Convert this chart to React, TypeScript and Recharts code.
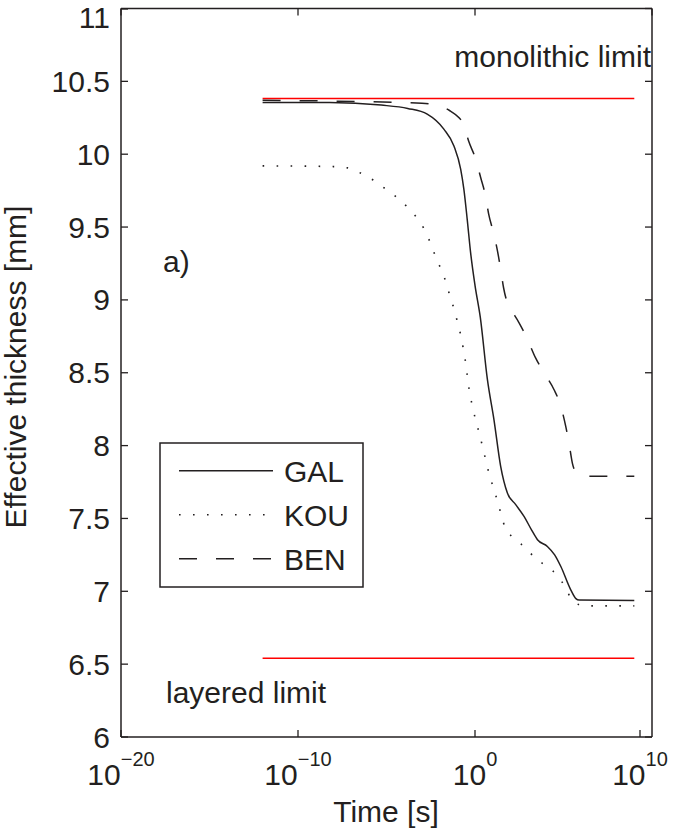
import React from 'react';
import { LineChart, Line, XAxis, YAxis, Customized } from 'recharts';

// log10 of time [s] and effective thickness [mm]
const GAL_LOGT = [-12, -8.2, -5.3, -3.8, -2.7, -1.76, -1.19, -0.81, -0.63, -0.44, -0.25, 0, 0.3, 0.7, 1.07, 1.45, 1.83, 2.3, 2.77, 3.2, 3.53, 4.09, 4.5, 4.85, 5.41, 5.7, 5.88, 9];
const GAL_THICK = [10.355, 10.355, 10.337, 10.314, 10.275, 10.172, 10.057, 9.897, 9.76, 9.553, 9.326, 9.1, 8.88, 8.454, 8.179, 7.858, 7.675, 7.595, 7.514, 7.42, 7.354, 7.308, 7.25, 7.17, 7.01, 6.95, 6.94, 6.937];

const KOU_LOGT = [-12, -8, -7.2, -6.44, -5.76, -5.1, -4.45, -3.87, -3.32, -2.89, -2.55, -2.27, -1.95, -1.66, -1.44, -1.19, -0.99, -0.8, -0.65, -0.52, -0.42, -0.31, -0.15, 0.03, 0.24, 0.43, 0.62, 0.81, 1.05, 1.28, 1.49, 1.73, 2.28, 2.88, 3.43, 4.09, 4.67, 5.13, 5.5, 6.2, 9];
const KOU_THICK = [9.92, 9.915, 9.906, 9.869, 9.823, 9.766, 9.707, 9.643, 9.569, 9.49, 9.4, 9.311, 9.219, 9.129, 9.036, 8.94, 8.847, 8.754, 8.658, 8.562, 8.465, 8.369, 8.273, 8.179, 8.085, 7.991, 7.895, 7.801, 7.707, 7.615, 7.521, 7.43, 7.359, 7.294, 7.225, 7.168, 7.106, 7.022, 6.937, 6.9, 6.9];

const BEN_LOGT = [-12, -6, -3, -2, -1.44, -0.9, -0.65, -0.36, 0.03, 0.32, 0.6, 0.77, 1.05, 1.28, 1.45, 1.62, 1.9, 2.2, 2.49, 2.96, 3.43, 3.9, 4.46, 4.85, 5.13, 5.32, 5.5, 5.75, 6.07, 9];
const BEN_THICK = [10.37, 10.36, 10.35, 10.33, 10.3, 10.25, 10.21, 10.09, 9.97, 9.84, 9.71, 9.59, 9.46, 9.33, 9.21, 9.08, 8.955, 8.9, 8.843, 8.73, 8.6, 8.5, 8.385, 8.27, 8.13, 8.01, 7.88, 7.81, 7.79, 7.79];

const LIMIT_LOGT = [-12, 9];
const MONOLITHIC = 10.383;
const LAYERED = 6.541;

const X_TICKS = [-20, -10, 0, 10];
const Y_TICKS = [6, 6.5, 7, 7.5, 8, 8.5, 9, 9.5, 10, 10.5, 11];

const INK = '#231f20';
const RED = '#ff0000';
const FONT = '"Liberation Sans", Arial, Helvetica, sans-serif';

const rows = (logT: number[], vals: number[]) => logT.map((e, i) => ({ t: Math.pow(10, e), v: vals[i] }));

const galData = rows(GAL_LOGT, GAL_THICK);
const kouData = rows(KOU_LOGT, KOU_THICK);
const benData = rows(BEN_LOGT, BEN_THICK);
const monoData = rows(LIMIT_LOGT, LIMIT_LOGT.map(() => MONOLITHIC));
const layerData = rows(LIMIT_LOGT, LIMIT_LOGT.map(() => LAYERED));

const SERIES = [
  { name: 'GAL', dash: undefined as string | undefined },
  { name: 'KOU', dash: '1.6 12.4' },
  { name: 'BEN', dash: '18 19' },
];

const XTick = (props: any) => {
  const { x, y, payload } = props;
  const exp = Math.round(Math.log10(payload.value));
  return (
    <g>
      <line x1={x} x2={x} y1={y} y2={y - 7} stroke={INK} strokeWidth={1.3} />
      <text x={x} y={y + 48} textAnchor="middle" fontSize={30} fill={INK} fontFamily={FONT}>
        <tspan>10</tspan>
        <tspan dy={-19} fontSize={20}>{exp < 0 ? `\u2212${-exp}` : `${exp}`}</tspan>
      </text>
    </g>
  );
};

const YTick = (props: any) => {
  const { x, y, payload } = props;
  // keep the top label ("11") inside the picture
  const ty = Math.max(y + 10.5, 27.5);
  return (
    <g>
      <line x1={x} x2={x + 7} y1={y} y2={y} stroke={INK} strokeWidth={1.3} />
      <text x={x - 11} y={ty} textAnchor="end" fontSize={30} fill={INK} fontFamily={FONT}>
        {String(payload.value)}
      </text>
    </g>
  );
};

const Annotations = () => (
  <g fontFamily={FONT} fill={INK} fontSize={30}>
    <text x={651} y={67} textAnchor="end">monolithic limit</text>
    <text x={163} y={272}>a)</text>
    <text x={166} y={703}>layered limit</text>
    <text x={386} y={822} textAnchor="middle">Time [s]</text>
    <text transform="translate(26,367) rotate(-90)" textAnchor="middle">Effective thickness [mm]</text>
    {/* legend box */}
    <g transform="translate(160,443)">
      <rect x={0} y={0} width={203} height={144} fill="#fff" stroke={INK} strokeWidth={1.5} />
      {SERIES.map((s, i) => (
        <g key={s.name} transform={`translate(0,${27.7 + i * 44})`}>
          <line x1={19} x2={113} y1={0} y2={0} stroke={INK} strokeWidth={1.5} strokeDasharray={s.dash} />
          <text x={124} y={11}>{s.name}</text>
        </g>
      ))}
    </g>
  </g>
);

export default function App() {
  return (
    <div style={{ position: 'absolute', left: 0, top: 0, width: 684, height: 832, background: '#fff' }}>
      <LineChart width={684} height={832} margin={{ top: 8.5, right: 32, bottom: 94, left: 120 }}>
        <XAxis
          dataKey="t"
          type="number"
          scale="log"
          domain={[1e-20, 1e10]}
          allowDataOverflow
          ticks={X_TICKS.map((e) => Math.pow(10, e))}
          height={1}
          tickSize={0}
          tickMargin={0}
          tickLine={false}
          tick={<XTick />}
          axisLine={{ stroke: INK, strokeWidth: 1.5 }}
        />
        <XAxis
          xAxisId="top"
          orientation="top"
          dataKey="t"
          type="number"
          scale="log"
          domain={[1e-20, 1e10]}
          allowDataOverflow
          ticks={X_TICKS.map((e) => Math.pow(10, e))}
          height={1}
          mirror
          tickSize={7}
          tick={() => <g />}
          tickLine={{ stroke: INK, strokeWidth: 1.3 }}
          axisLine={{ stroke: INK, strokeWidth: 1.5 }}
        />
        <YAxis
          type="number"
          domain={[6, 11]}
          allowDataOverflow
          ticks={Y_TICKS}
          width={1}
          tickSize={0}
          tickMargin={0}
          tickLine={false}
          tick={<YTick />}
          axisLine={{ stroke: INK, strokeWidth: 1.5 }}
        />
        <YAxis
          yAxisId="right"
          orientation="right"
          type="number"
          domain={[6, 11]}
          allowDataOverflow
          ticks={Y_TICKS}
          width={1}
          mirror
          tickSize={7}
          tick={() => <g />}
          tickLine={{ stroke: INK, strokeWidth: 1.3 }}
          axisLine={{ stroke: INK, strokeWidth: 1.5 }}
        />
        <Line data={monoData} dataKey="v" type="linear" stroke={RED} strokeWidth={1.5} dot={false} activeDot={false} isAnimationActive={false} />
        <Line data={layerData} dataKey="v" type="linear" stroke={RED} strokeWidth={1.5} dot={false} activeDot={false} isAnimationActive={false} />
        <Line data={galData} dataKey="v" name="GAL" type="monotone" stroke={INK} strokeWidth={1.5} dot={false} activeDot={false} isAnimationActive={false} />
        <Line data={kouData} dataKey="v" name="KOU" type="monotone" stroke={INK} strokeWidth={1.6} strokeDasharray="1.6 12.4" dot={false} activeDot={false} isAnimationActive={false} />
        <Line data={benData} dataKey="v" name="BEN" type="monotone" stroke={INK} strokeWidth={1.5} strokeDasharray="18 19" dot={false} activeDot={false} isAnimationActive={false} />
        <Customized component={Annotations} />
      </LineChart>
    </div>
  );
}
